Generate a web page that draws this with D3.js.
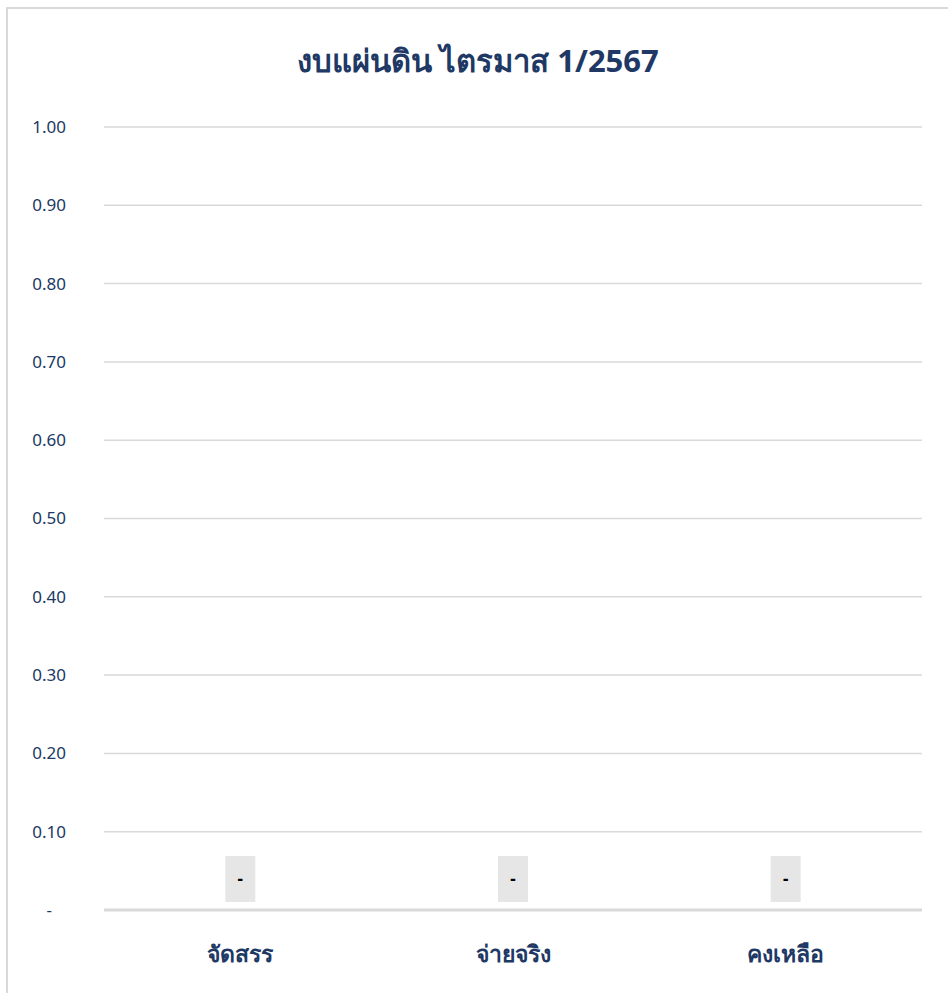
<!DOCTYPE html>
<html><head><meta charset="utf-8">
<script src="https://cdn.jsdelivr.net/npm/d3@7"></script>
<style>
html,body{margin:0;padding:0;background:#fff;}
svg{display:block;font-family:"Noto Sans","DejaVu Sans",sans-serif;}
</style></head>
<body><div id="chart"></div>
<script>
const categories = ["จัดสรร", "จ่ายจริง", "คงเหลือ"];
const values = [0, 0, 0];
const yTicks = [0, 0.1, 0.2, 0.3, 0.4, 0.5, 0.6, 0.7, 0.8, 0.9, 1.0];
const title = "งบแผ่นดิน ไตรมาส 1/2567";

const W = 948, H = 993;
const navy = "#203864";
const svg = d3.select("#chart").append("svg").attr("width", W).attr("height", H);

// chart area border
svg.append("rect").attr("x", 7).attr("y", 8).attr("width", W + 10).attr("height", H + 10)
  .attr("fill", "#fff").attr("stroke", "#d9d9d9").attr("stroke-width", 2);

svg.append("text").attr("x", 478).attr("y", 72).attr("text-anchor", "middle")
  .attr("font-size", 31).attr("font-weight", "bold").attr("fill", navy).text(title);

const x = d3.scaleBand().domain(categories).range([104, 922]).padding(0);
const y = d3.scaleLinear().domain([0, 1]).range([910, 127]);

// gridlines
svg.append("g").selectAll("line").data(yTicks.filter(d => d > 0)).join("line")
  .attr("x1", 104).attr("x2", 922).attr("y1", d => y(d)).attr("y2", d => y(d))
  .attr("stroke", "#d9d9d9").attr("stroke-width", 1.5);

// y axis labels
const yAxis = d3.axisLeft(y).tickValues(yTicks).tickSize(0)
  .tickFormat(d => d === 0 ? "-" : d3.format(".2f")(d));
const ya = svg.append("g").attr("transform", "translate(69,0)").call(yAxis);
ya.select(".domain").remove();
ya.selectAll("text").attr("font-size", 17).attr("fill", navy)
  .attr("font-family", "\"Noto Sans\",\"DejaVu Sans\",sans-serif")
  .attr("dx", d => d === 0 ? -14 : 0);

// bars (zero height)
svg.append("g").selectAll("rect").data(values).join("rect")
  .attr("x", (d, i) => x(categories[i]) + x.bandwidth() * 0.25)
  .attr("width", x.bandwidth() * 0.5)
  .attr("y", d => y(d)).attr("height", d => y(0) - y(d))
  .attr("fill", "#4472c4");

// axis line
svg.append("line").attr("x1", 104).attr("x2", 922).attr("y1", y(0)).attr("y2", y(0))
  .attr("stroke", "#d9d9d9").attr("stroke-width", 3);

// data labels
const lab = svg.append("g").selectAll("g").data(values).join("g")
  .attr("transform", (d, i) => `translate(${x(categories[i]) + x.bandwidth() / 2},${y(d) - 31})`);
lab.append("rect").attr("x", -15).attr("y", -23).attr("width", 30).attr("height", 46).attr("fill", "#e6e6e6");
lab.append("text").attr("text-anchor", "middle").attr("dy", "0.35em").attr("font-size", 17)
  .attr("font-weight", "bold").attr("fill", "#000").text(d => d === 0 ? "-" : d3.format(".2f")(d));

// x axis labels
const xAxis = d3.axisBottom(x).tickSize(0);
const xa = svg.append("g").attr("transform", `translate(0,${y(0) + 33})`).call(xAxis);
xa.select(".domain").remove();
xa.selectAll("text").attr("font-size", 23).attr("font-weight", "bold").attr("fill", navy)
  .attr("font-family", "\"Noto Sans\",\"DejaVu Sans\",sans-serif");
</script>
</body></html>
